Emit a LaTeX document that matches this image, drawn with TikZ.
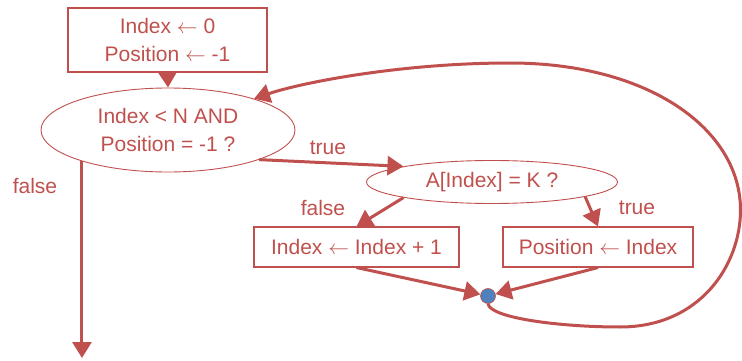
\documentclass[tikz,border=0pt]{standalone}
\usepackage{fontspec}
\setmainfont{Liberation Sans}
\usetikzlibrary{shapes.geometric,arrows.meta}
\definecolor{redA}{HTML}{C0504D}
\definecolor{blueA}{HTML}{4F81BD}
\newcommand{\assignarrow}{\ensuremath{\leftarrow}}
\begin{document}
\begin{tikzpicture}[x=1pt,y=-1pt,
  every node/.style={text=redA, font=\fontsize{21}{28}\selectfont},
  box/.style={draw=redA, line width=1.1pt, rectangle, inner sep=0pt, align=center},
  dec/.style={draw=redA, line width=0.9pt, ellipse, inner sep=0pt, align=center},
  flow/.style={draw=redA, line width=3pt, -{Triangle[length=16pt,width=19pt]}},
  lbl/.style={inner sep=0pt},
  joint/.style={circle, fill=blueA, draw=redA, line width=0.6pt, minimum size=15pt, inner sep=0pt}]
\useasboundingbox (0,0) rectangle (742,361);
\node[box, minimum width=199pt, minimum height=64pt] (init) at (167.5,40) {Index \assignarrow{} 0\\Position \assignarrow{} -1};
\node[dec, minimum width=254pt, minimum height=84pt] (e1) at (168,130) {Index < N AND\\Position = -1 ?};
\node[dec, minimum width=251pt, minimum height=43pt] (e2) at (492,182) {A[Index] = K ?};
\node[box, minimum width=205pt, minimum height=40pt] (b1) at (356.5,247) {Index \assignarrow{} Index + 1};
\node[box, minimum width=190pt, minimum height=40pt] (b2) at (598,247) {Position \assignarrow{} Index};
\node[joint] (dot) at (488,296) {};
\coordinate (exit) at (87,358);

\node[lbl] (lf1) at (35,186) {false};
\node[lbl] (lt1) at (328,148) {true};
\node[lbl] (lf2) at (323,208) {false};
\node[lbl] (lt2) at (637,208) {true};

\draw[flow] (init.south) -- (e1.north);
\draw[flow] (e1.-18) -- (e2.170);
\draw[flow] (e1.200) -- (e1.200 |- exit);
\draw[flow] (e2.190) -- (b1.north);
\draw[flow] (e2.-9.5) -- (b2.north);
\draw[flow] (b1.south) -- (dot);
\draw[flow] (b2.south) -- (dot);
\draw[flow] (dot.south) .. controls (490,318) and (560,327) .. (620,327)
  .. controls (700,327) and (740.5,265) .. (740.5,210)
  .. controls (740.5,130) and (650,63) .. (510,63)
  .. controls (400,63) and (300,83) .. (e1.20);
\end{tikzpicture}
\end{document}
